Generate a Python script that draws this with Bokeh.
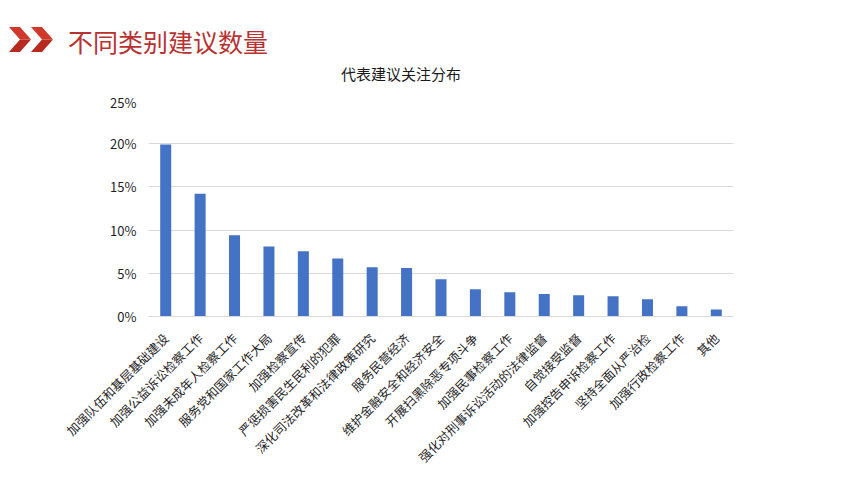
from math import pi
from bokeh.plotting import figure
from bokeh.models import Range1d, FactorRange, NumeralTickFormatter, FixedTicker, Div
from bokeh.layouts import column
from bokeh.embed import file_html
from bokeh.resources import INLINE

# ---- data ----
categories = [
    "加强队伍和基层基础建设",
    "加强公益诉讼检察工作",
    "加强未成年人检察工作",
    "服务党和国家工作大局",
    "加强检察宣传",
    "严惩损害民生民利的犯罪",
    "深化司法改革和法律政策研究",
    "服务民营经济",
    "维护金融安全和经济安全",
    "开展扫黑除恶专项斗争",
    "加强民事检察工作",
    "强化对刑事诉讼活动的法律监督",
    "自觉接受监督",
    "加强控告申诉检察工作",
    "坚持全面从严治检",
    "加强行政检察工作",
    "其他",
]
shares = [0.199, 0.142, 0.094, 0.081, 0.0755, 0.067, 0.057, 0.056, 0.043,
          0.0315, 0.028, 0.026, 0.0245, 0.0235, 0.020, 0.012, 0.008]
y_ticks = [0, 0.05, 0.10, 0.15, 0.20, 0.25]
page_title = "不同类别建议数量"
chart_title = "代表建议关注分布"

FONT = "Noto Sans CJK SC"
W = 854
HEADER_H = 92
BAND_H = 3
FIG_H = 488 - HEADER_H - BAND_H

# ---- header: chevrons, page title, chart title ----
def chevron_pts(x0, y0, y1, arm=11, depth=11):
    ym = (y0 + y1) / 2
    upper = [(x0, y0), (x0 + arm, y0), (x0 + arm + depth, ym), (x0 + depth, ym)]
    lower = [(x0 + depth, ym), (x0 + arm + depth, ym), (x0 + arm, y1), (x0, y1)]
    f = lambda pts: " ".join(f"{a},{b}" for a, b in pts)
    return f(upper), f(lower)

svg_parts = []
for x0 in (9, 31):
    up, lo = chevron_pts(x0, 27, 52)
    svg_parts.append(f'<polygon points="{up}" fill="#D0382B"/>')
    svg_parts.append(f'<polygon points="{lo}" fill="#B72A20"/>')

header_html = (
    f'<div style="position:relative;width:{W}px;height:{HEADER_H}px;background:#fff;">'
    f'<svg width="60" height="60" style="position:absolute;left:0;top:0;">{"".join(svg_parts)}</svg>'
    f'<div style="position:absolute;left:68px;top:26px;font-family:\'{FONT}\';font-size:25px;'
    f'line-height:30px;color:#B83232;white-space:nowrap;">{page_title}</div>'
    f'<div style="position:absolute;left:0;width:802px;top:64px;text-align:center;font-family:\'{FONT}\';'
    f'font-size:15px;line-height:20px;color:#1a1a1a;white-space:nowrap;">{chart_title}</div>'
    '</div>'
)
header = Div(text=header_html, width=W, height=HEADER_H, margin=0)

band = Div(text=f'<div style="width:{W}px;height:{BAND_H}px;background:#DCDCDC;"></div>',
           width=W, height=BAND_H, margin=0)

# ---- chart ----
p = figure(width=W, height=FIG_H, x_range=FactorRange(factors=categories),
           y_range=Range1d(0, 0.25), output_backend="svg", toolbar_location=None,
           min_border_left=148, min_border_right=121, min_border_top=8,
           min_border_bottom=FIG_H - 8 - 216, margin=0)
p.vbar(x=categories, top=shares, width=0.32, fill_color="#4472C4", line_color=None)

p.outline_line_color = None
p.xgrid.grid_line_color = None
p.ygrid.grid_line_color = "#D9D9D9"
p.ygrid.grid_line_width = 1

p.yaxis.ticker = FixedTicker(ticks=y_ticks)
p.yaxis.formatter = NumeralTickFormatter(format="0%")
p.yaxis.axis_line_color = None
p.yaxis.major_tick_line_color = None
p.yaxis.minor_tick_line_color = None
p.yaxis.major_label_standoff = 6
p.yaxis.major_label_text_font = FONT
p.yaxis.major_label_text_font_size = "13px"
p.yaxis.major_label_text_color = "#1f1f1f"

p.xaxis.major_label_orientation = pi / 4
p.xaxis.axis_line_color = "#D9D9D9"
p.xaxis.major_tick_line_color = None
p.xaxis.minor_tick_line_color = None
p.xaxis.major_label_standoff = 13
p.xaxis.major_label_text_font = FONT
p.xaxis.major_label_text_font_size = "12.5px"
p.xaxis.major_label_text_color = "#1f1f1f"

layout = column(header, p, band, spacing=0, margin=0)
open("out.html", "w").write(file_html(layout, INLINE))
